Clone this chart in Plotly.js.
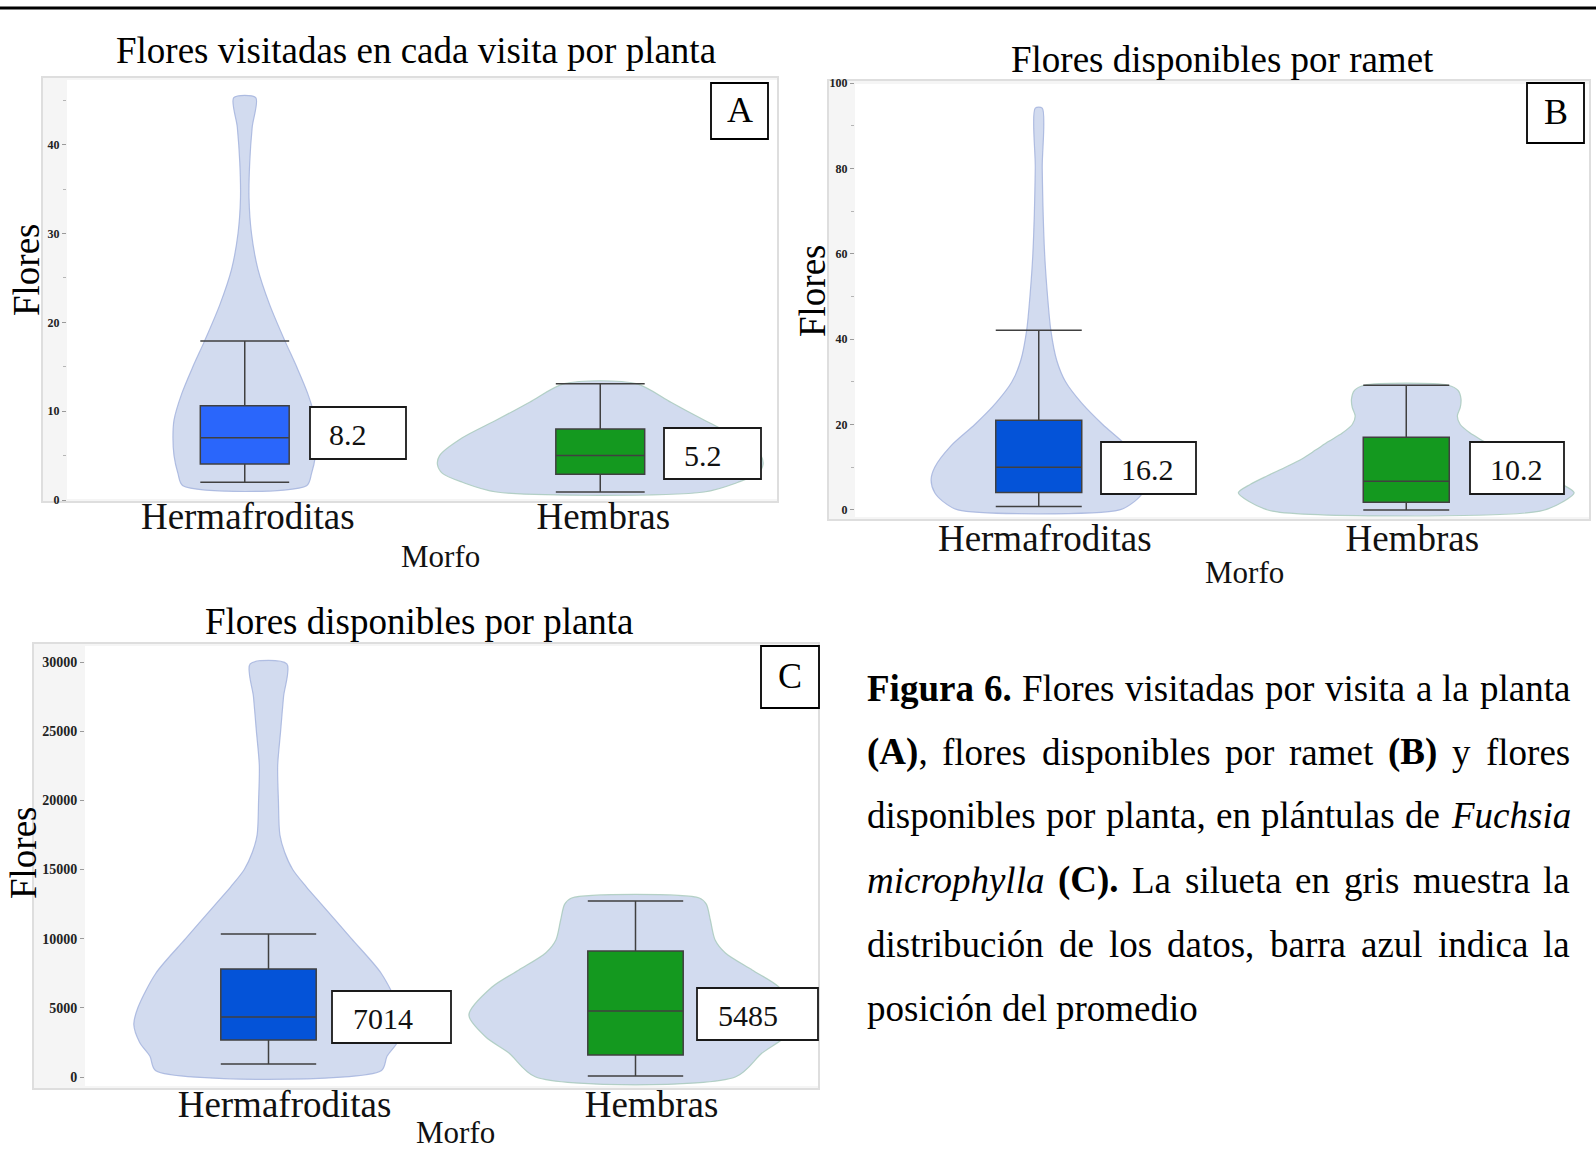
<!DOCTYPE html>
<html>
<head>
<meta charset="utf-8">
<script src="https://cdn.plot.ly/plotly-3.0.1.min.js"></script>
<style>
  html, body { margin: 0; padding: 0; background: #ffffff; }
  #chart { width: 1596px; height: 1158px; }
</style>
</head>
<body>
<div id="chart"></div>
<script>
// ---------------- data ----------------
const morfos = ['Hermafroditas', 'Hembras'];

// A: flores visitadas en cada visita por planta
const q1A = [4.05, 2.9];
const medianA = [7.0, 5.0];
const q3A = [10.6, 8.0];
const lowA = [2.0, 0.9];
const highA = [17.9, 13.1];
const meanA = ['8.2', '5.2'];
const dens_yA_herm = [1.6, 3, 5, 7, 9, 12, 15, 18, 22, 26, 30, 34, 38, 42, 45.3];
const dens_wA_herm = [0.174, 0.188, 0.199, 0.202, 0.199, 0.177, 0.146, 0.112, 0.070, 0.037, 0.019, 0.012, 0.014, 0.021, 0.031];
const dens_yA_hemb = [0.9, 2, 3, 4, 5, 7, 9, 11, 13.1];
const dens_wA_hemb = [0.292, 0.388, 0.444, 0.458, 0.452, 0.388, 0.292, 0.199, 0.101];

// B: flores disponibles por ramet
const q1B = [4.1, 1.8];
const medianB = [10.0, 6.7];
const q3B = [21.0, 17.0];
const lowB = [0.8, 0.0];
const highB = [42.1, 29.2];
const meanB = ['16.2', '10.2'];
const dens_yB_herm = [0, 2, 4, 7, 10, 15, 20, 25, 30, 35, 42, 50, 60, 80, 94.1];
const dens_wB_herm = [0.220, 0.261, 0.283, 0.293, 0.283, 0.239, 0.174, 0.117, 0.073, 0.049, 0.033, 0.024, 0.016, 0.0095, 0.0095];
const dens_yB_hemb = [-0.3, 2, 4, 6, 8, 10, 12, 14, 16, 18, 20, 22, 24, 26, 28, 29.2];
const dens_wB_hemb = [0.364, 0.429, 0.457, 0.424, 0.378, 0.329, 0.283, 0.247, 0.212, 0.174, 0.147, 0.139, 0.147, 0.149, 0.141, 0.114];

// C: flores disponibles por planta
const q1C = [2675, 1591];
const medianC = [4338, 4772];
const q3C = [7808, 9110];
const lowC = [940, 72];
const highC = [10339, 12725];
const meanC = ['7014', '5485'];
const dens_yC_herm = [458, 1500, 2500, 3800, 5000, 7500, 10000, 12500, 13750, 15000, 16250, 17500, 20000, 22500, 25000, 27500, 29860];
const dens_wC_herm = [0.307, 0.323, 0.351, 0.367, 0.356, 0.307, 0.226, 0.144, 0.103, 0.066, 0.044, 0.031, 0.027, 0.025, 0.033, 0.041, 0.050];
const dens_yC_hemb = [0, 1735, 2892, 4483, 6507, 7736, 8965, 9905, 11350, 12500, 12942];
const dens_wC_hemb = [0.272, 0.345, 0.408, 0.454, 0.391, 0.318, 0.245, 0.217, 0.204, 0.193, 0.174];

const panelTitles = ['Flores visitadas en cada visita por planta', 'Flores disponibles por ramet', 'Flores disponibles por planta'];
const panelLetters = ['A', 'B', 'C'];
const yTitle = 'Flores';
const xTitle = 'Morfo';

const captionLines = [
  '<b>Figura 6.</b> Flores visitadas por visita a la planta',
  '<b>(A)</b>, flores disponibles por ramet <b>(B)</b> y flores',
  'disponibles por planta, en plántulas de <i>Fuchsia</i>',
  '<i>microphylla</i> <b>(C).</b> La silueta en gris muestra la',
  'distribución de los datos, barra azul indica la',
  'posición del promedio'
];

// ---------------- layout helpers ----------------
const W = 1596, H = 1158;
const SERIF = '"Liberation Serif", "Times New Roman", serif';
const px = v => v / W;
const py = v => 1 - v / H;

const VIOLIN_FILL = 'rgba(205,215,237,0.9)';
const BOX_LINE = '#404040';
const HEMB_GREEN = '#14991f';

// panel geometry (pixels)
const panels = [
  { x0: 67,  x1: 778,  y0: 79,  y1: 500,  band: [42, 77, 778, 502],   yr: [0, 47.4],     dtick: 10,   minor: 5,   tickSize: 12, boxW: 0.25,  herm: '#2a66fb',
    labels: [[310, 407, 406, 459, 348, 434], [664, 428, 761, 479, 703, 455]], letter: [711, 83, 768, 139],
    title: [416, 50], ytl: [27, 270], xtl: [440, 556], standoff: -9, shift: 3 },
  { x0: 855, x1: 1590, y0: 83,  y1: 518,  band: [828, 80, 1590, 520], yr: [-1.9, 100],   dtick: 20,   minor: 10,  tickSize: 12, boxW: 0.234, herm: '#0453d8',
    labels: [[1101, 442, 1196, 494, 1147, 469], [1470, 442, 1564, 494, 1516, 469]], letter: [1527, 83, 1584, 143],
    title: [1222, 60], ytl: [812, 291], xtl: [1244, 572], standoff: -5, shift: 6 },
  { x0: 85,  x1: 819,  y0: 645, y1: 1087, band: [33, 643, 819, 1089], yr: [-723, 31229], dtick: 5000, minor: null, tickSize: 14, boxW: 0.26, herm: '#0453d8',
    labels: [[332, 991, 451, 1043, 383, 1018], [697, 988, 818, 1040, 748, 1015]], letter: [761, 646, 819, 708],
    title: [419, 622], ytl: [23, 853], xtl: [455, 1132], standoff: -8, shift: 16 }
];

const stats = [
  { q1: q1A, med: medianA, q3: q3A, lo: lowA, hi: highA, mean: meanA,
    dens: [[dens_yA_herm, dens_wA_herm], [dens_yA_hemb, dens_wA_hemb]] },
  { q1: q1B, med: medianB, q3: q3B, lo: lowB, hi: highB, mean: meanB,
    dens: [[dens_yB_herm, dens_wB_herm], [dens_yB_hemb, dens_wB_hemb]] },
  { q1: q1C, med: medianC, q3: q3C, lo: lowC, hi: highC, mean: meanC,
    dens: [[dens_yC_herm, dens_wC_herm], [dens_yC_hemb, dens_wC_hemb]] }
];

function silhouette(center, ys, ws) {
  const x = [], y = [];
  for (let i = 0; i < ys.length; i++) { x.push(center - ws[i]); y.push(ys[i]); }
  for (let i = ys.length - 1; i >= 0; i--) { x.push(center + ws[i]); y.push(ys[i]); }
  x.push(x[0]); y.push(y[0]);
  return { x, y };
}

const traces = [];
const shapes = [];
const annotations = [];
const layout = {
  width: W, height: H,
  margin: { l: 0, r: 0, t: 0, b: 0, pad: 0 },
  paper_bgcolor: '#ffffff',
  plot_bgcolor: 'rgba(0,0,0,0)',
  showlegend: false,
  hovermode: false,
  boxmode: 'overlay',
  font: { family: SERIF, color: '#000' }
};

// rule across the top of the figure
shapes.push({ type: 'line', xref: 'paper', yref: 'paper', x0: 0, x1: 1, y0: py(8), y1: py(8),
  line: { color: '#000', width: 3 } });

panels.forEach((p, k) => {
  const s = stats[k];
  const sfx = k === 0 ? '' : String(k + 1);
  const xa = 'x' + sfx, ya = 'y' + sfx;

  layout['xaxis' + sfx] = {
    domain: [px(p.x0), px(p.x1)], anchor: ya, range: [-0.5, 1.5],
    tickvals: [0, 1], ticktext: morfos, ticks: '', showgrid: false, zeroline: false, showline: false,
    tickfont: { family: SERIF, size: 37, color: '#111' },
    ticklabelstandoff: p.standoff, ticklabelshift: p.shift, fixedrange: true
  };
  const yax = {
    domain: [py(p.y1), py(p.y0)], anchor: xa, range: p.yr, dtick: p.dtick, tick0: 0, tickformat: 'd',
    ticks: 'outside', ticklen: 4, tickcolor: '#9a9a9a', tickwidth: 1,
    showgrid: false, zeroline: false, showline: false,
    tickfont: { family: SERIF, size: p.tickSize, color: '#222', weight: 'bold' }, fixedrange: true
  };
  if (p.minor) yax.minor = { dtick: p.minor, ticks: 'outside', ticklen: 3, tickcolor: '#b5b5b5', showgrid: false };
  layout['yaxis' + sfx] = yax;

  // panel background: grey axis band with white plotting field
  shapes.push({ type: 'rect', layer: 'below', xref: 'paper', yref: 'paper',
    x0: px(p.band[0]), x1: px(p.band[2]), y0: py(p.band[3]), y1: py(p.band[1]),
    fillcolor: '#f5f5f5', line: { color: '#dedede', width: 2 } });
  shapes.push({ type: 'rect', layer: 'below', xref: 'paper', yref: 'paper',
    x0: px(p.x0), x1: px(p.x1 - 1), y0: py(p.y1 - 1), y1: py(p.y0 + 1),
    fillcolor: '#ffffff', line: { width: 0 } });

  // violin silhouettes sit underneath the boxes
  [0, 1].forEach(i => {
    const sh = silhouette(i, s.dens[i][0], s.dens[i][1]);
    traces.push({ type: 'scatter', mode: 'lines', x: sh.x, y: sh.y, xaxis: xa, yaxis: ya,
      fill: 'toself', fillcolor: VIOLIN_FILL, zorder: -1,
      line: { color: i === 0 ? 'rgba(160,176,220,0.8)' : 'rgba(165,200,185,0.8)', width: 1.2, shape: 'spline', smoothing: 0.8 },
      hoverinfo: 'skip' });
  });
  [0, 1].forEach(i => {
    traces.push({ type: 'box', x: [i], q1: [s.q1[i]], median: [s.med[i]], q3: [s.q3[i]],
      lowerfence: [s.lo[i]], upperfence: [s.hi[i]], width: p.boxW, whiskerwidth: 1,
      boxpoints: false, xaxis: xa, yaxis: ya,
      fillcolor: i === 0 ? p.herm : HEMB_GREEN,
      line: { color: BOX_LINE, width: 1.5 }, hoverinfo: 'skip' });
  });

  // mean labels
  p.labels.forEach((L, i) => {
    shapes.push({ type: 'rect', xref: 'paper', yref: 'paper',
      x0: px(L[0]), x1: px(L[2]), y0: py(L[3]), y1: py(L[1]),
      fillcolor: '#ffffff', line: { color: '#1a1a1a', width: 1.8 } });
    annotations.push({ xref: 'paper', yref: 'paper', x: px(L[4]), y: py(L[5]),
      xanchor: 'center', yanchor: 'middle', showarrow: false, text: s.mean[i],
      font: { family: SERIF, size: 30, color: '#111' } });
  });

  // panel letter
  const Lt = p.letter;
  shapes.push({ type: 'rect', xref: 'paper', yref: 'paper',
    x0: px(Lt[0]), x1: px(Lt[2]), y0: py(Lt[3]), y1: py(Lt[1]),
    fillcolor: '#ffffff', line: { color: '#000', width: 1.8 } });
  annotations.push({ xref: 'paper', yref: 'paper', x: px((Lt[0] + Lt[2]) / 2), y: py((Lt[1] + Lt[3]) / 2 - 1),
    xanchor: 'center', yanchor: 'middle', showarrow: false, text: panelLetters[k],
    font: { family: SERIF, size: 36, color: '#000' } });

  // titles
  annotations.push({ xref: 'paper', yref: 'paper', x: px(p.title[0]), y: py(p.title[1]),
    xanchor: 'center', yanchor: 'middle', showarrow: false, text: panelTitles[k],
    font: { family: SERIF, size: 37, color: '#000' } });
  annotations.push({ xref: 'paper', yref: 'paper', x: px(p.ytl[0]), y: py(p.ytl[1]),
    xanchor: 'center', yanchor: 'middle', showarrow: false, text: yTitle, textangle: -90,
    font: { family: SERIF, size: 37, color: '#000' } });
  annotations.push({ xref: 'paper', yref: 'paper', x: px(p.xtl[0]), y: py(p.xtl[1]),
    xanchor: 'center', yanchor: 'middle', showarrow: false, text: xTitle,
    font: { family: SERIF, size: 31, color: '#111' } });
});

// ---------------- justified caption ----------------
const CAP_SIZE = 37, CAP_X0 = 867, CAP_X1 = 1570, CAP_Y0 = 688, CAP_STEP = 64;
const ctx = document.createElement('canvas').getContext('2d');

function parseWords(line) {
  const words = []; let cur = []; let bold = false, italic = false;
  const re = /<(\/?)([bi])>|([^<]+)/g; let m;
  while ((m = re.exec(line))) {
    if (m[2]) { const on = m[1] !== '/'; if (m[2] === 'b') bold = on; else italic = on; continue; }
    const parts = m[3].split(' ');
    parts.forEach((t, j) => {
      if (j > 0) { if (cur.length) words.push(cur); cur = []; }
      if (t) cur.push({ t, b: bold, i: italic });
    });
  }
  if (cur.length) words.push(cur);
  return words;
}
function segFont(sg) {
  return (sg.i ? 'italic ' : '') + (sg.b ? 'bold ' : '') + CAP_SIZE + 'px "Liberation Serif"';
}
function wordWidth(w) {
  return w.reduce((acc, sg) => { ctx.font = segFont(sg); return acc + ctx.measureText(sg.t).width; }, 0);
}
function wordHtml(w) {
  return w.map(sg => {
    let t = sg.t;
    if (sg.i) t = '<i>' + t + '</i>';
    if (sg.b) t = '<b>' + t + '</b>';
    return t;
  }).join('');
}
ctx.font = CAP_SIZE + 'px "Liberation Serif"';
const spaceW = ctx.measureText(' ').width;

captionLines.forEach((line, li) => {
  const words = parseWords(line);
  const widths = words.map(wordWidth);
  const total = widths.reduce((a, b) => a + b, 0);
  const last = li === captionLines.length - 1;
  const gap = last ? spaceW : (CAP_X1 - CAP_X0 - total) / (words.length - 1);
  let x = CAP_X0;
  words.forEach((w, wi) => {
    annotations.push({ xref: 'paper', yref: 'paper', x: px(x - 2), y: py(CAP_Y0 + li * CAP_STEP),
      xanchor: 'left', yanchor: 'middle', showarrow: false, text: wordHtml(w),
      font: { family: SERIF, size: CAP_SIZE, color: '#000' } });
    x += widths[wi] + gap;
  });
});

layout.shapes = shapes;
layout.annotations = annotations;

Plotly.newPlot('chart', traces, layout, { displayModeBar: false, staticPlot: true });
</script>
</body>
</html>
